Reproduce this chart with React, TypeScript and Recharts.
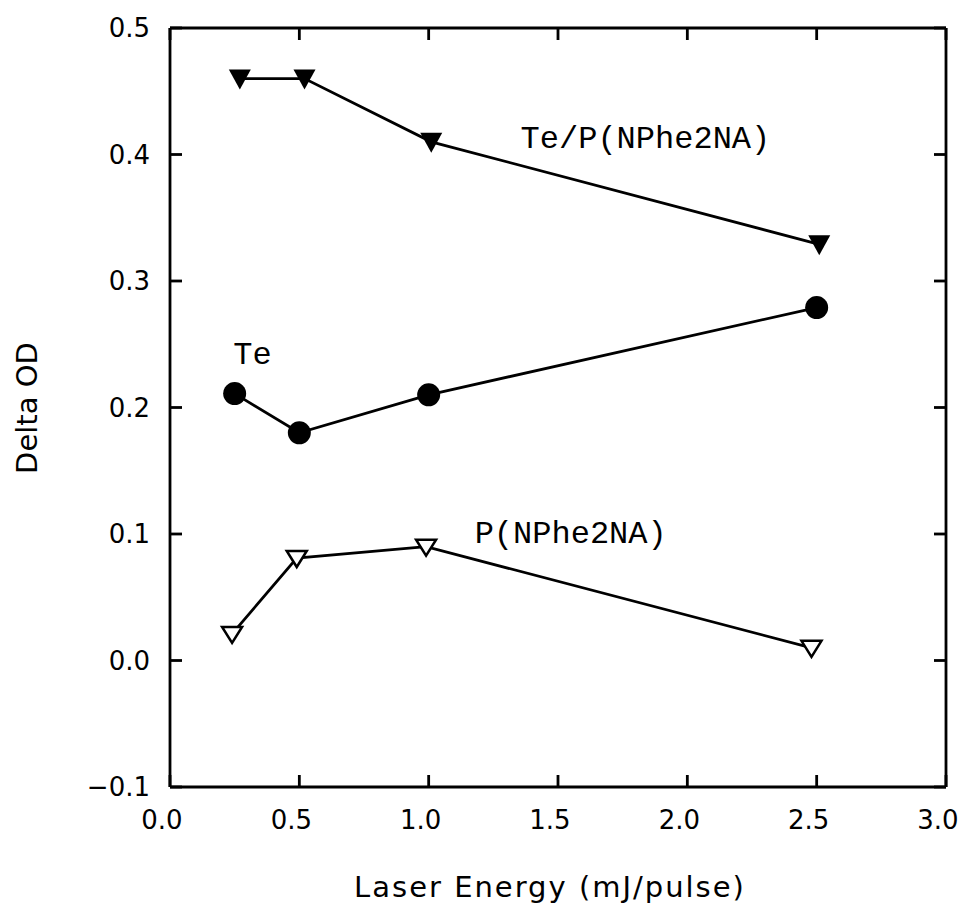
import { LineChart, Line, XAxis, YAxis, ReferenceDot } from 'recharts';

// Laser energy (mJ/pulse) and Delta OD
const tepEnergy = [0.27, 0.52, 1.01, 2.51];
const tepDeltaOD = [0.46, 0.46, 0.41, 0.329];
const teEnergy = [0.25, 0.5, 1.0, 2.5];
const teDeltaOD = [0.211, 0.18, 0.21, 0.279];
const pEnergy = [0.24, 0.49, 0.99, 2.48];
const pDeltaOD = [0.021, 0.081, 0.09, 0.01];

const xTicks = [0, 0.5, 1.0, 1.5, 2.0, 2.5, 3.0];
const yTicks = [-0.1, 0, 0.1, 0.2, 0.3, 0.4, 0.5];

const seriesLabels = [
  { x: 1.838, y: 0.414, text: 'Te/P(NPhe2NA)' },
  { x: 0.319, y: 0.243, text: 'Te' },
  { x: 1.549, y: 0.1016, text: 'P(NPhe2NA)' },
];

const toPoints = (xs: number[], ys: number[]) => xs.map((x, i) => ({ x, y: ys[i] }));

const tepData = toPoints(tepEnergy, tepDeltaOD);
const teData = toPoints(teEnergy, teDeltaOD);
const pData = toPoints(pEnergy, pDeltaOD);

const INK = '#000';
const SANS = 'DejaVu Sans';
const TICK_LEN = 12;
const frame = { stroke: INK, strokeWidth: 2.8 };

const fmt = (v: number) => (v < 0 ? '\u2212' + Math.abs(v).toFixed(1) : v.toFixed(1));

function BottomTick(props: any) {
  const { x, y, payload } = props;
  return (
    <text x={x - 8} y={y + 42} textAnchor="middle" fontFamily={SANS} fontSize={26} fill={INK}>
      {fmt(payload.value)}
    </text>
  );
}

function LeftTick(props: any) {
  const { x, y, payload } = props;
  return (
    <text x={x - 20} y={y + 9} textAnchor="end" fontFamily={SANS} fontSize={26} fill={INK}>
      {fmt(payload.value)}
    </text>
  );
}

const NoLabel = () => <g />;

function FilledDown(props: any) {
  const { cx, cy } = props;
  return <path d={`M${cx - 11},${cy - 9} L${cx + 11},${cy - 9} L${cx},${cy + 11} Z`} fill={INK} />;
}

function OpenDown(props: any) {
  const { cx, cy } = props;
  return (
    <path
      d={`M${cx - 10},${cy - 7} L${cx + 10},${cy - 7} L${cx},${cy + 9} Z`}
      fill="#fff"
      stroke={INK}
      strokeWidth={2.5}
    />
  );
}

function Disc(props: any) {
  const { cx, cy } = props;
  return <circle cx={cx} cy={cy} r={11.5} fill={INK} />;
}

export default function App() {
  return (
    <div style={{ position: 'relative', width: 952, height: 900, background: '#fff' }}>
      <LineChart
        width={952}
        height={900}
        margin={{ top: 19, right: 13, bottom: 0, left: 0 }}
        style={{ overflow: 'visible' }}
      >
        <XAxis
          xAxisId="b"
          type="number"
          dataKey="x"
          domain={[0, 3]}
          ticks={xTicks}
          orientation="bottom"
          height={121}
          axisLine={frame}
          tickLine={frame}
          tickSize={-TICK_LEN}
          tickMargin={TICK_LEN}
          interval={0}
          tick={<BottomTick />}
        />
        <XAxis
          xAxisId="t"
          type="number"
          dataKey="x"
          domain={[0, 3]}
          ticks={xTicks}
          orientation="top"
          height={1}
          axisLine={frame}
          tickLine={frame}
          tickSize={-TICK_LEN}
          tickMargin={0}
          interval={0}
          tick={<NoLabel />}
        />
        <YAxis
          yAxisId="l"
          type="number"
          domain={[-0.1, 0.5]}
          ticks={yTicks}
          orientation="left"
          width={162}
          axisLine={frame}
          tickLine={frame}
          tickSize={-TICK_LEN}
          tickMargin={TICK_LEN}
          interval={0}
          tick={<LeftTick />}
        />
        <YAxis
          yAxisId="r"
          type="number"
          domain={[-0.1, 0.5]}
          ticks={yTicks}
          orientation="right"
          width={1}
          axisLine={frame}
          tickLine={frame}
          tickSize={-TICK_LEN}
          tickMargin={0}
          interval={0}
          tick={<NoLabel />}
        />
        <Line
          xAxisId="b"
          yAxisId="l"
          data={tepData}
          dataKey="y"
          stroke={INK}
          strokeWidth={2.8}
          dot={<FilledDown />}
          isAnimationActive={false}
        />
        <Line
          xAxisId="t"
          yAxisId="r"
          data={teData}
          dataKey="y"
          stroke={INK}
          strokeWidth={2.8}
          dot={<Disc />}
          isAnimationActive={false}
        />
        <Line
          xAxisId="b"
          yAxisId="l"
          data={pData}
          dataKey="y"
          stroke={INK}
          strokeWidth={2.8}
          dot={<OpenDown />}
          isAnimationActive={false}
        />
        {seriesLabels.map((s) => (
          <ReferenceDot
            key={s.text}
            xAxisId="b"
            yAxisId="l"
            x={s.x}
            y={s.y}
            r={1}
            fill="none"
            stroke="none"
            label={{
              value: s.text,
              position: 'center',
              fill: INK,
              fontSize: 32,
              fontFamily: 'Liberation Mono',
            }}
          />
        ))}
      </LineChart>
      <div
        style={{
          position: 'absolute',
          left: 0,
          width: 1084,
          top: 862,
          textAlign: 'center',
          fontFamily: SANS,
          fontSize: 29,
          letterSpacing: 2,
          lineHeight: '34px',
        }}
      >
        Laser Energy (mJ/pulse)
      </div>
      <div
        style={{
          position: 'absolute',
          left: 19,
          top: 400,
          transform: 'translate(-50%, -50%) rotate(-90deg)',
          fontFamily: SANS,
          fontSize: 29,
          whiteSpace: 'nowrap',
          lineHeight: '34px',
        }}
      >
        Delta OD
      </div>
    </div>
  );
}
